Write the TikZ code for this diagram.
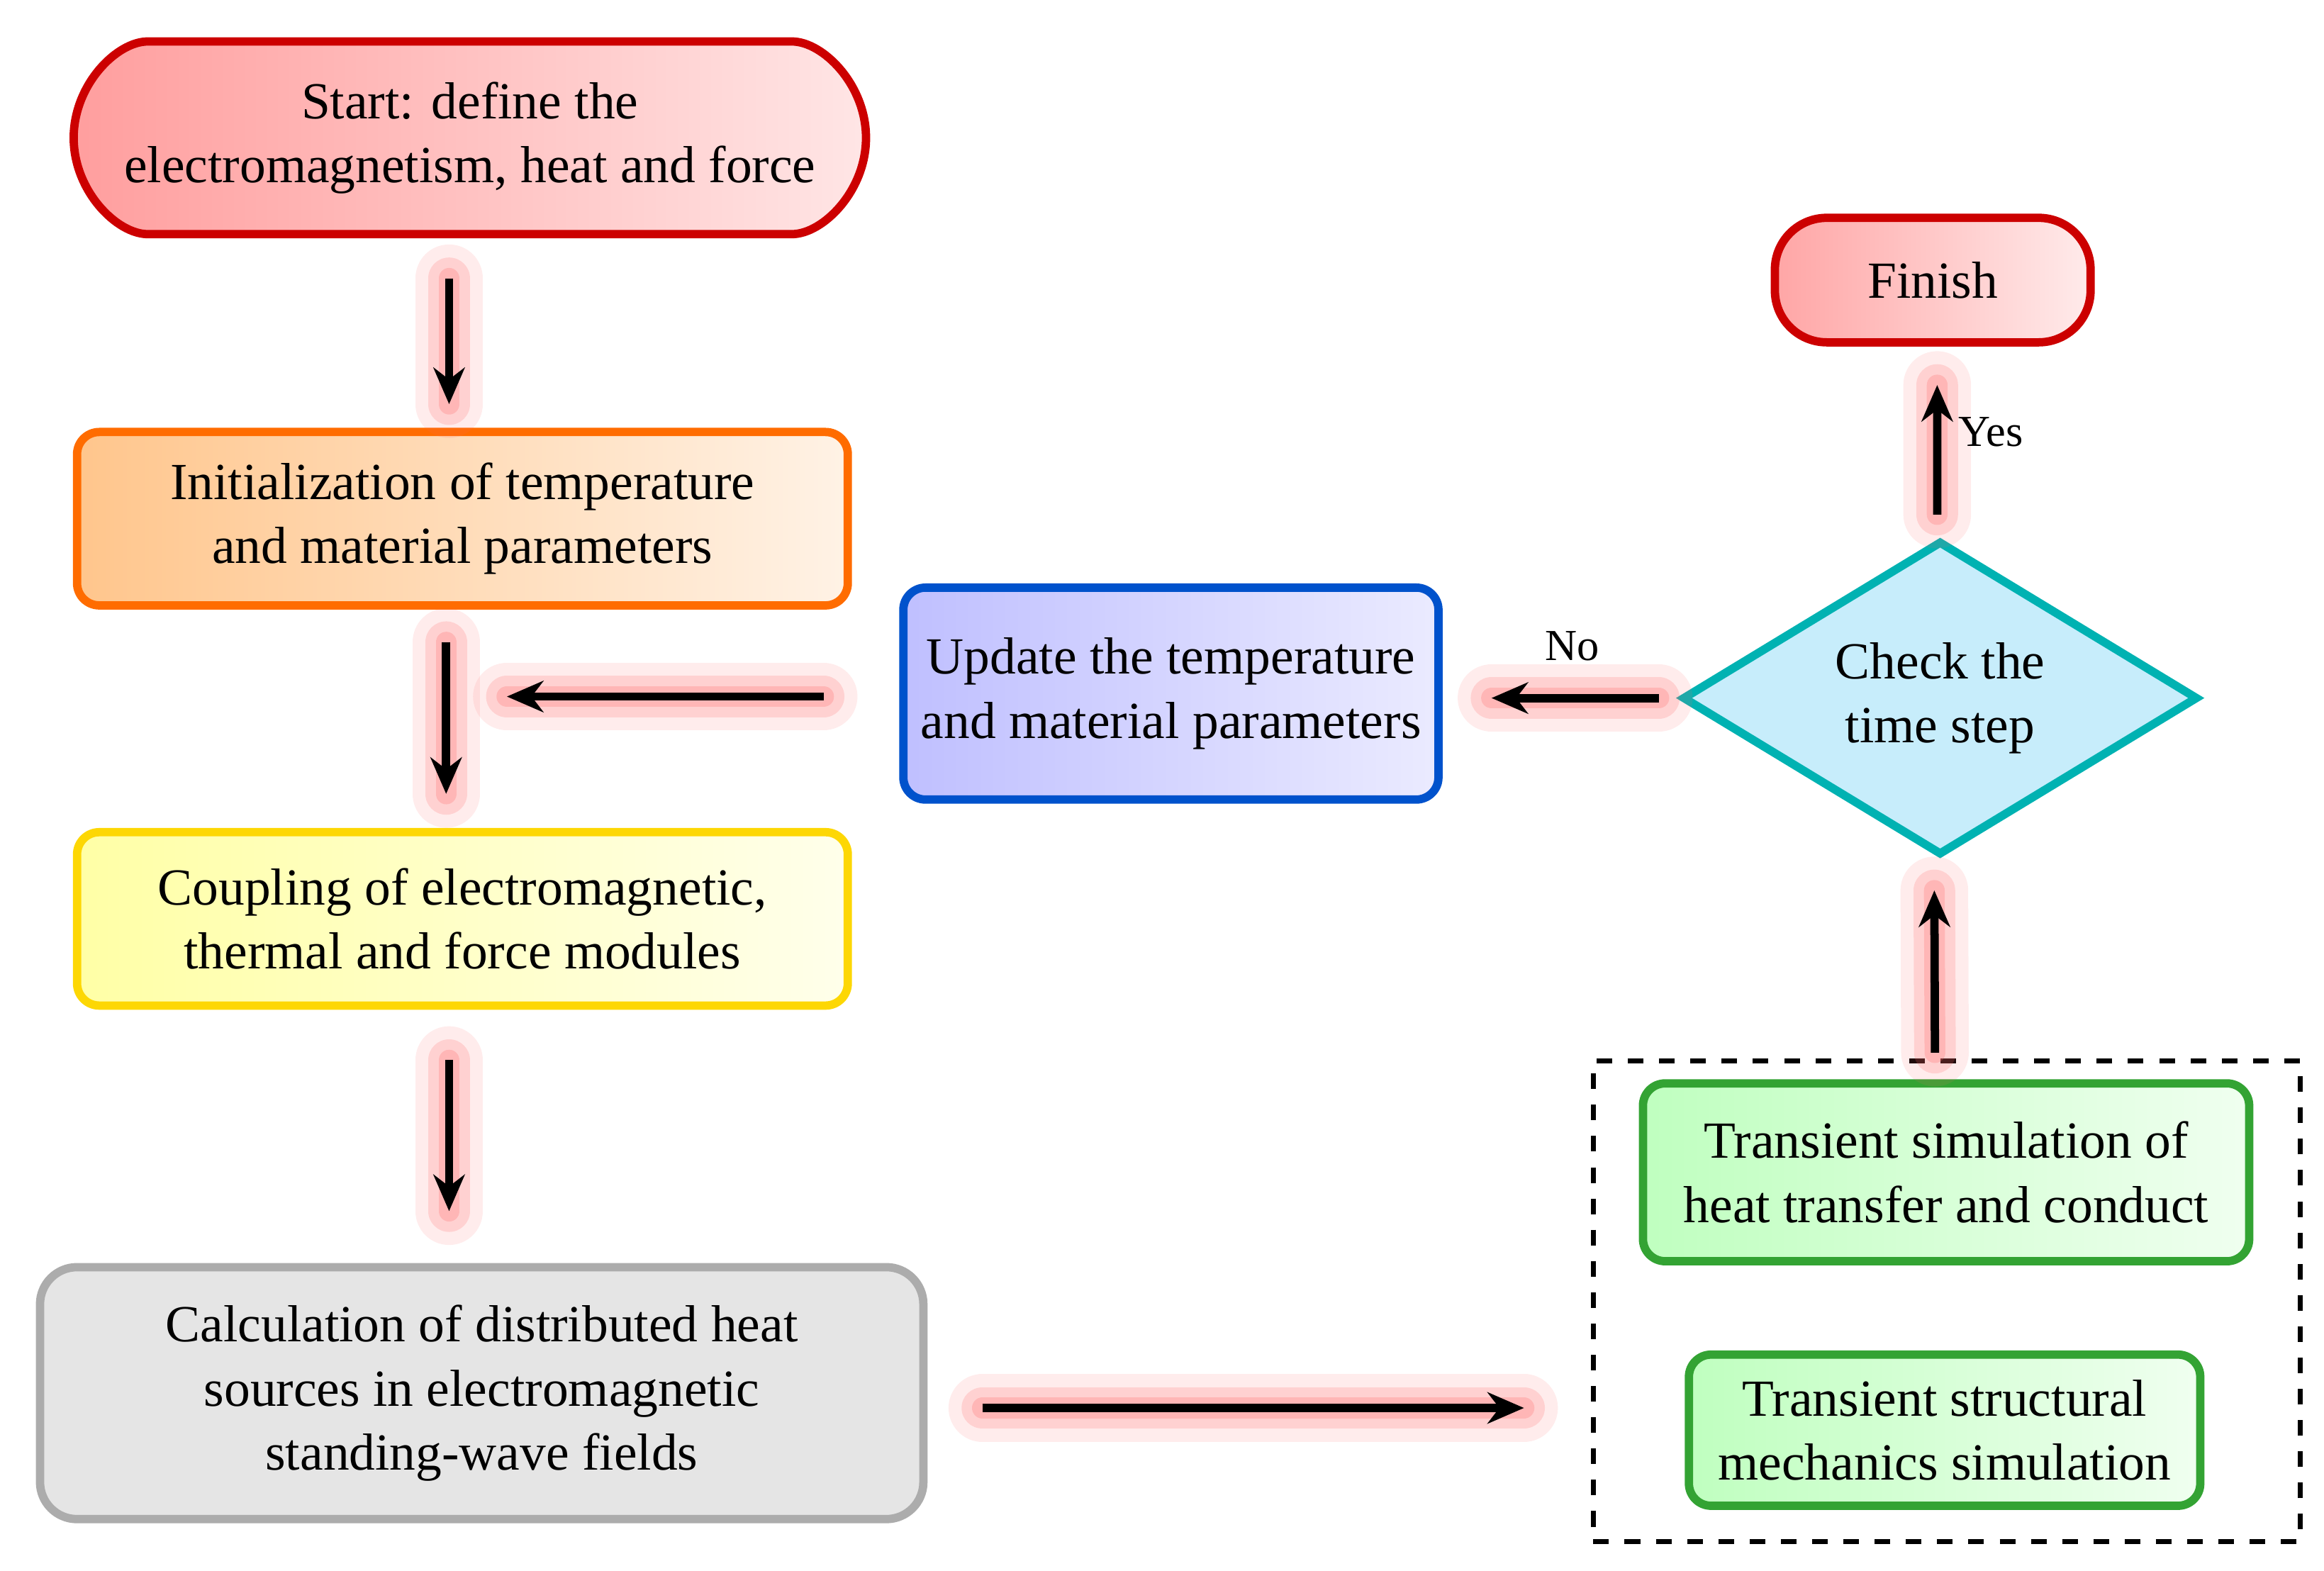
\documentclass[tikz,border=0pt]{standalone}
\usepackage{fontspec}
\setmainfont{Liberation Serif}
\usetikzlibrary{shapes.geometric,shapes.misc,arrows.meta}
\tikzset{
  box/.style={draw, line width=1.6pt, rounded corners=0.15cm, align=center,
    font=\fontsize{10}{12.3}\selectfont},
  flow/.style={-{Stealth[length=7pt,width=6pt]}, line width=1.6pt,
    preaction={draw=red!60, line width=13pt, opacity=0.12, line cap=round, -},
    preaction={draw=red!60, line width=8pt, opacity=0.2, line cap=round, -},
    preaction={draw=red!60, line width=4pt, opacity=0.25, line cap=round, -}},
}
\begin{document}
\begin{tikzpicture}

			\useasboundingbox (0,0) rectangle (15.68,10.6);

			% Left column
			\node[box, rounded rectangle, draw=red!80!black, left color=red!38!white, right color=red!10!white,
			  minimum width=5.58cm, minimum height=1.30cm] (start) at (3.17,9.67)
			  {Start: define the\\electromagnetism, heat and force};
			\node[box, draw=orange!85!red, left color=orange!45!white, right color=orange!10!white,
			  minimum width=5.20cm, minimum height=1.17cm] (init) at (3.12,7.10)
			  {Initialization of temperature\\and material parameters};
			\node[box, draw=yellow!75!orange, left color=yellow!35!white, right color=yellow!8!white,
			  minimum width=5.20cm, minimum height=1.17cm] (coupling) at (3.12,4.40)
			  {Coupling of electromagnetic,\\thermal and force modules};
			\node[box, draw=gray!65, fill=gray!20, rounded corners=0.25cm,
			  minimum width=5.96cm, minimum height=1.70cm] (calc) at (3.25,1.20)
			  {Calculation of distributed heat\\sources in electromagnetic\\standing-wave fields};

			% Middle and right
			\node[box, draw=blue!60!cyan!80!black, left color=blue!25!white, right color=blue!8!white,
			  minimum width=3.61cm, minimum height=1.43cm] (update) at (7.90,5.92)
			  {Update the temperature\\and material parameters};
			\node[box, diamond, rounded corners=0pt, draw=teal!60!cyan, fill=cyan!22, inner sep=0pt,
			  aspect=1.64, minimum width=3.48cm, minimum height=2.12cm] (check) at (13.09,5.89)
			  {Check the\\time step};
			\node[box, rounded corners=0.35cm, draw=red!80!black, left color=red!35!white, right color=red!8!white,
			  minimum width=2.13cm, minimum height=0.84cm] (finish) at (13.04,8.71) {Finish};

			% Simulation group
			\node[draw, dashed, line width=1pt, minimum width=4.77cm, minimum height=3.24cm] (group) at (13.135,1.82) {};
			\node[box, draw=green!55!black!80, left color=green!25!white, right color=green!6!white,
			  minimum width=4.09cm, minimum height=1.20cm] (trans1) at (13.13,2.69)
			  {Transient simulation of\\heat transfer and conduct};
			\node[box, draw=green!55!black!80, left color=green!25!white, right color=green!6!white,
			  minimum width=3.45cm, minimum height=1.02cm] (trans2) at (13.12,0.95)
			  {Transient structural\\mechanics simulation};

			% Connecting arrows
			\coordinate (back) at (3.42,5.90);
			\draw[flow, shorten <=0.27cm, shorten >=0.16cm] ([xshift=-0.14cm]start.south) -- ([xshift=-0.09cm]init.north);
			\draw[flow, shorten <=0.22cm, shorten >=0.23cm] ([xshift=-0.11cm]init.south) -- ([xshift=-0.11cm]coupling.north);
			\draw[flow, shorten <=0.34cm, shorten >=0.35cm] ([xshift=-0.09cm]coupling.south) -- ([xshift=-0.22cm]calc.north);
			\draw[flow, shorten <=0.37cm, shorten >=0.45cm] ([yshift=-0.1cm]calc.east) -- ([yshift=-0.1cm]calc.east -| group.west);
			\draw[flow, shorten <=0.04cm, shorten >=0.21cm] ([xshift=-0.08cm]group.north) -- ([xshift=-0.04cm]check.south);
			\draw[flow, shorten <=0.15cm, shorten >=0.26cm] ([xshift=-0.02cm]check.north) -- ([xshift=0.03cm]finish.south)
			  node[pos=0.55, right, font=\fontsize{8.5}{10}\selectfont] {Yes};
			\draw[flow, shorten <=0.13cm, shorten >=0.33cm] (check.west) -- (update.east |- check.west)
			  node[pos=0.45, above=3pt, font=\fontsize{8.5}{10}\selectfont] {No};
			\draw[flow, shorten <=0.51cm] (update.west |- back) -- (back);

		\end{tikzpicture}
\end{document}
